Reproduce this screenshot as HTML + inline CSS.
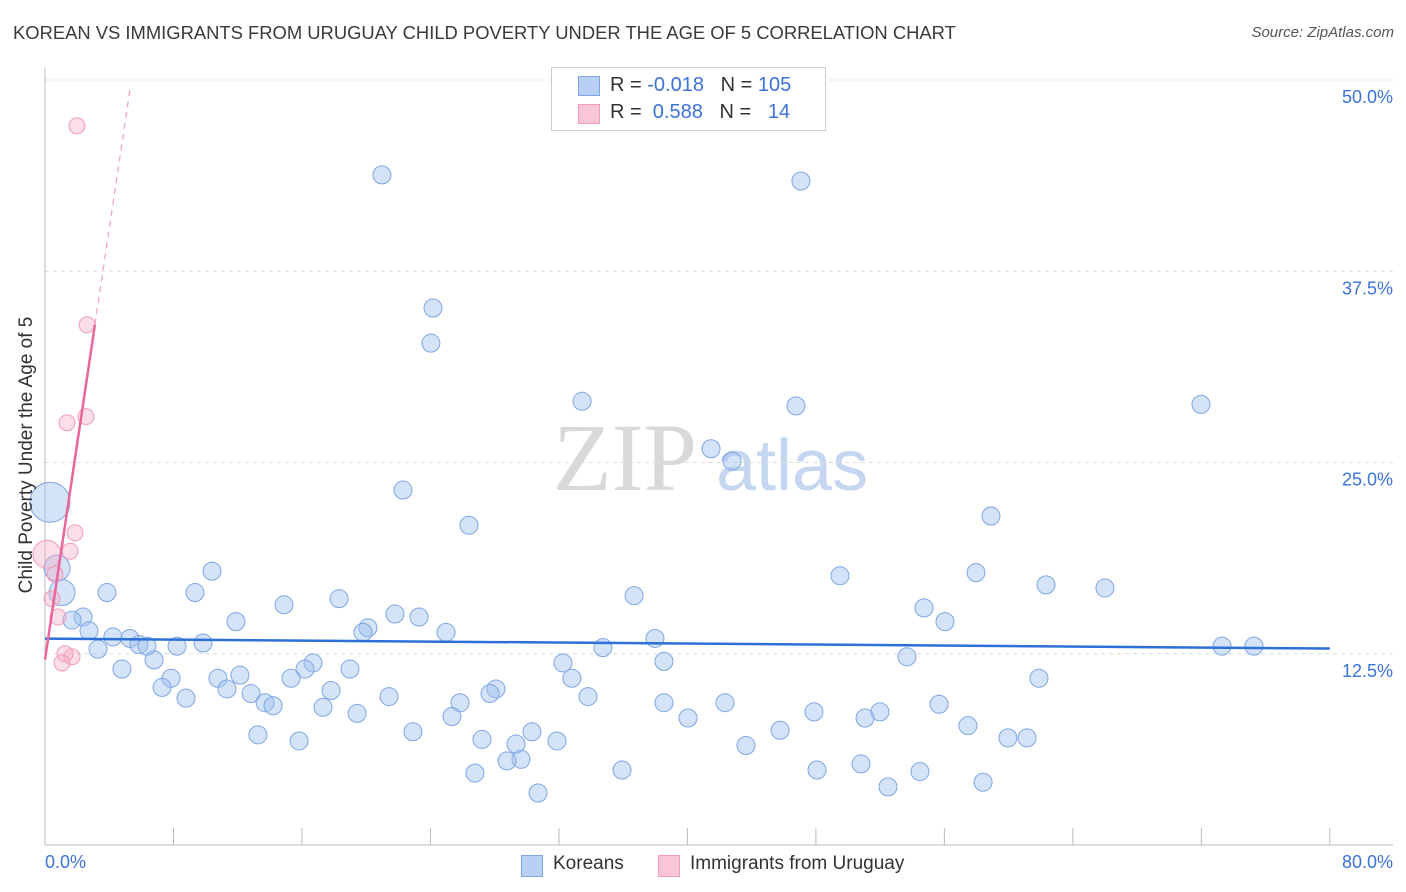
<!DOCTYPE html>
<html><head><meta charset="utf-8"><style>
body{margin:0;background:#fff;font-family:"Liberation Sans",sans-serif;}
#wrap{position:relative;width:1406px;height:892px;overflow:hidden;}
.t{position:absolute;white-space:nowrap;}
</style></head><body>
<div id="wrap">
<div class="t" style="left:13px;top:22px;font-size:18.4px;color:#3a3a3a;">KOREAN VS IMMIGRANTS FROM URUGUAY CHILD POVERTY UNDER THE AGE OF 5 CORRELATION CHART</div>
<div class="t" style="right:12px;top:24px;font-size:15px;color:#555;font-style:italic;">Source: ZipAtlas.com</div>
<svg id="svg" width="1406" height="892" style="position:absolute;left:0;top:0"></svg>
</div>
<script>
const koreanX=[20.98,47.07,24.16,24.03,33.44,46.76,71.98,41.47,42.78,22.29,26.40,58.90,10.40,49.50,57.97,62.33,66.00,3.86,9.34,36.68,18.31,14.88,54.73,21.79,23.29,2.37,1.68,11.89,56.04,2.74,20.11,19.80,24.97,4.23,5.29,5.85,6.35,8.22,9.84,37.98,34.74,3.30,73.29,75.28,6.79,53.67,4.79,16.69,16.19,32.25,38.54,18.99,12.14,7.85,10.77,15.32,32.81,61.89,7.29,11.33,17.81,12.83,28.08,27.71,21.42,33.81,8.78,13.70,14.20,25.84,38.54,42.34,55.67,17.31,19.43,25.34,47.88,51.99,51.06,40.04,57.47,22.91,30.32,45.77,13.26,27.21,31.88,15.82,29.33,59.96,61.15,43.65,29.64,28.77,50.81,26.77,35.93,48.07,54.48,52.49,58.41,30.70,0.31,0.75,1.06];
const koreanY=[43.8,43.4,35.1,32.8,29.0,28.7,28.8,25.9,25.1,23.2,20.9,21.5,17.9,17.6,17.8,17.0,16.8,16.5,16.5,16.3,16.1,15.7,15.5,15.1,14.9,14.9,14.7,14.6,14.6,14.0,14.2,13.9,13.9,13.6,13.5,13.1,13.0,13.0,13.2,13.5,12.9,12.8,13.0,13.0,12.1,12.3,11.5,11.9,11.5,11.9,12.0,11.5,11.1,10.9,10.9,10.9,10.9,10.9,10.3,10.2,10.1,9.9,10.2,9.9,9.7,9.7,9.6,9.3,9.1,9.3,9.3,9.3,9.2,9.0,8.6,8.4,8.7,8.7,8.3,8.3,7.8,7.4,7.4,7.5,7.2,6.9,6.8,6.8,6.6,7.0,7.0,6.5,5.6,5.5,5.3,4.7,4.9,4.9,4.8,3.8,4.1,3.4,22.4,18.1,16.5];
const uruguayX=[1.99,2.62,2.55,1.37,1.87,1.56,0.62,0.44,0.81,1.25,1.68,1.06,0.12];
const uruguayY=[47.0,34.0,28.0,27.6,20.4,19.2,17.7,16.1,14.9,12.5,12.3,11.9,19.0];
const blueLine=[13.49,12.84];
const pinkIntercept=12.12, pinkSlope=7.04;
const yTicks=[12.5,25.0,37.5,50.0];
const yTickLabels=["12.5%","25.0%","37.5%","50.0%"];
const xTicks=[0,8,16,24,32,40,48,56,64,72,80];

const NS="http://www.w3.org/2000/svg";
const svg=document.getElementById('svg');
const X=v=>45+v*16.06;
const Y=v=>845-v*15.3;
function mk(tag,attrs){const e=document.createElementNS(NS,tag);for(const k in attrs)e.setAttribute(k,attrs[k]);svg.appendChild(e);return e;}

let w1=mk('text',{x:553,y:490,'font-size':96,'font-family':'Liberation Serif, serif',fill:'#d9d9d9'});w1.textContent='ZIP';


let w2=mk('text',{x:716,y:490,'font-size':72,'font-family':'Liberation Sans, sans-serif',fill:'#c5d6f0'});w2.textContent='atlas';



yTicks.forEach((t,i)=>{
 let g=mk('line',{x1:45,x2:1393,y1:Y(t),y2:Y(t),stroke:'#dcdcdc','stroke-dasharray':'4,4'});
 
 
 let l=mk('text',{x:1393,y:Y(t)+23,'text-anchor':'end','font-size':18,fill:'#3b73d9','font-family':'Liberation Sans, sans-serif'});
 l.textContent=yTickLabels[i];
 
 
});
let ax=mk('line',{x1:45,x2:1393,y1:845,y2:845,stroke:'#bbb'});


let ay=mk('line',{x1:45,x2:45,y1:68,y2:845,stroke:'#bbb'});


xTicks.forEach(t=>{let k=mk('line',{x1:X(t),x2:X(t),y1:828,y2:845,stroke:'#bbb'});
 
 });

koreanX.forEach((x,i)=>{
 const r=i==102?20:(i>102?13:9);
 let c=mk('circle',{cx:X(x),cy:Y(koreanY[i]),r:r,fill:'rgba(160,192,240,0.45)',stroke:'#7fa6e3','stroke-width':1});
 
 
});
uruguayX.forEach((x,i)=>{
 const r=i==12?14:8;
 let c=mk('circle',{cx:X(x),cy:Y(uruguayY[i]),r:r,fill:'rgba(246,172,196,0.4)',stroke:'#f19cb8','stroke-width':1});
 
 
});
let bl=mk('line',{x1:X(0),y1:Y(blueLine[0]),x2:X(80),y2:Y(blueLine[1]),stroke:'#2c6fd6','stroke-width':2.5});


const pEnd=3.11, pDash=5.29;
let pl=mk('line',{x1:X(0),y1:Y(pinkIntercept),x2:X(pEnd),y2:Y(pinkIntercept+pinkSlope*pEnd),stroke:'#e8669a','stroke-width':2.5});


let pd=mk('line',{x1:X(pEnd),y1:Y(pinkIntercept+pinkSlope*pEnd),x2:X(pDash),y2:Y(pinkIntercept+pinkSlope*pDash),stroke:'#eda0bb','stroke-width':1.2,'stroke-dasharray':'6,5'});


</script>
<div class="t" style="left:27px;top:455px;font-size:19px;color:#333;transform:translate(-50%,-50%) rotate(-90deg);">Child Poverty Under the Age of 5</div>
<div class="t" style="left:45px;top:852px;font-size:18px;color:#3b73d9;">0.0%</div>
<div class="t" style="right:13px;top:852px;font-size:18px;color:#3b73d9;">80.0%</div>
<div style="position:absolute;left:551px;top:67px;width:273px;height:62px;border:1px solid #ccc;background:#fff;font-size:20px;color:#333;">
 <div style="position:absolute;left:26px;top:8px;width:20px;height:18px;background:#b9d0f5;border:1px solid #7fa6e3;"></div>
 <div class="t" style="left:58px;top:6px;">R = <span style="color:#3b73d9">-0.018</span>&nbsp;&nbsp;&nbsp;N = <span style="color:#3b73d9">105</span></div>
 <div style="position:absolute;left:26px;top:36px;width:20px;height:18px;background:#f9c6d6;border:1px solid #f19cb8;"></div>
 <div class="t" style="left:58px;top:33px;">R = &nbsp;<span style="color:#3b73d9">0.588</span>&nbsp;&nbsp;&nbsp;N = &nbsp;&nbsp;<span style="color:#3b73d9">14</span></div>
</div>
<div style="position:absolute;left:521px;top:855px;font-size:19px;color:#333;">
 <div style="position:absolute;left:0;top:0;width:20px;height:20px;background:#b9d0f5;border:1px solid #7fa6e3;"></div>
 <div class="t" style="left:32px;top:-2px;">Koreans</div>
 <div style="position:absolute;left:137px;top:0;width:20px;height:20px;background:#f9c6d6;border:1px solid #f19cb8;"></div>
 <div class="t" style="left:169px;top:-2px;">Immigrants from Uruguay</div>
</div>
</body></html>
